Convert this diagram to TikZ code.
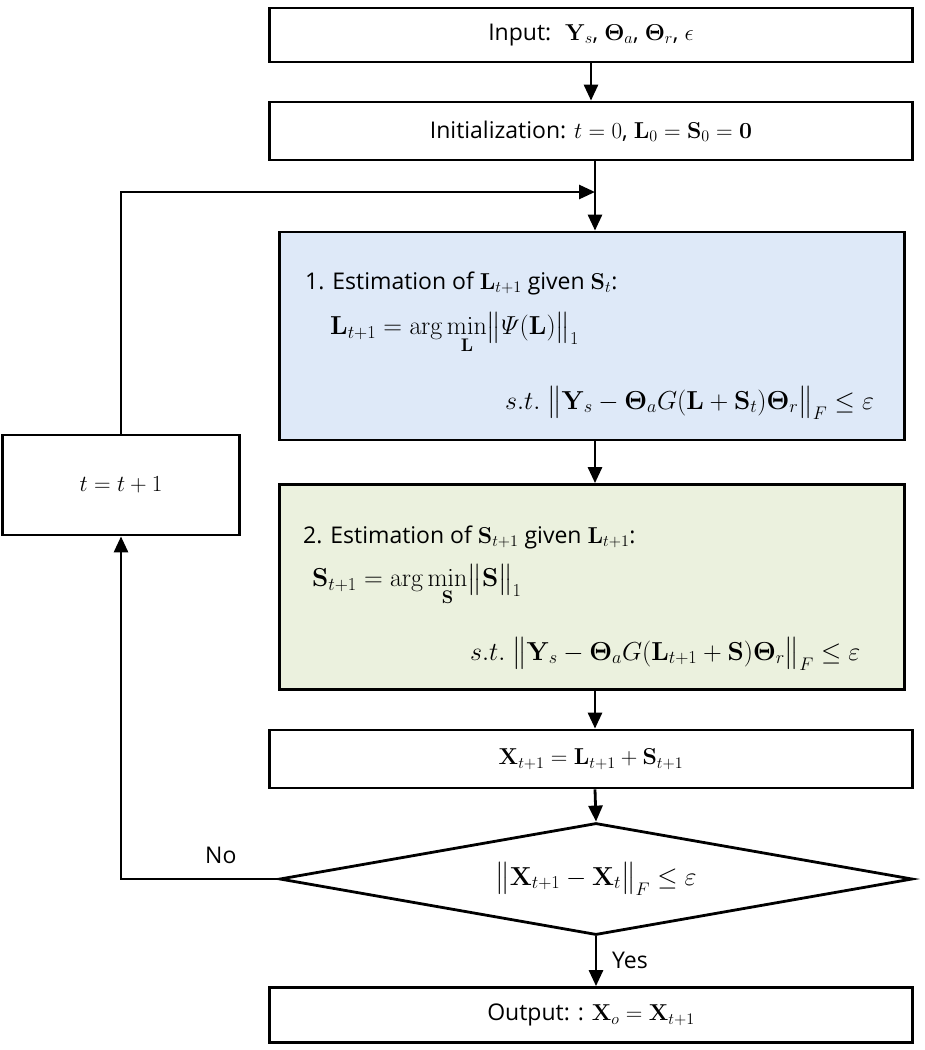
\RequirePackage{fix-cm}
\documentclass[tikz,border=0pt]{standalone}
\usepackage{amsmath,amssymb,bm}
\usepackage[no-math]{fontspec}
\setmainfont{Open Sans}
\usetikzlibrary{shapes.geometric,arrows.meta}
\begin{document}
\begin{tikzpicture}[x=1pt,y=-1pt,
  box/.style={draw,line width=2.8pt,inner sep=0,font=\fontsize{23}{27}\selectfont},
  arr/.style={line width=2.8pt,-{Triangle[length=16pt,width=14pt]}},
  eq/.style={anchor=west,inner sep=0,font=\fontsize{26}{31}\selectfont},
  txt/.style={anchor=west,inner sep=0,font=\fontsize{23}{27}\selectfont}]
\useasboundingbox (0,0) rectangle (925,1050);
\node[box,minimum width=643pt,minimum height=54pt] (in) at (591,35) {Input: \ $\mathbf{Y}_s$, $\bm{\Theta}_a$, $\bm{\Theta}_r$, $\epsilon$};
\node[box,minimum width=643pt,minimum height=58pt] (init) at (591,131) {Initialization: $t=0$, $\mathbf{L}_0=\mathbf{S}_0=\mathbf{0}$};
\node[box,minimum width=625pt,minimum height=208pt,fill={rgb,255:red,222;green,233;blue,248}] (b1) at (592,336) {};
\node[box,minimum width=625pt,minimum height=205pt,fill={rgb,255:red,235;green,241;blue,222}] (b2) at (592,587) {};
\node[txt] (t1) at (305,283) {1. Estimation of $\mathbf{L}_{t+1}$ given $\mathbf{S}_t$:};
\node[eq] (e1) at (330,333) {$\mathbf{L}_{t+1}=\arg\min\limits_{\mathbf{L}}\bigl\|\varPsi(\mathbf{L})\bigr\|_1$};
\node[eq] (e2) at (505,403) {$s.t.\ \bigl\|\mathbf{Y}_s-\bm{\Theta}_aG(\mathbf{L}+\mathbf{S}_t)\bm{\Theta}_r\bigr\|_F\le\varepsilon$};
\node[txt] (t2) at (303,537) {2. Estimation of $\mathbf{S}_{t+1}$ given $\mathbf{L}_{t+1}$:};
\node[eq] (e3) at (312,585) {$\mathbf{S}_{t+1}=\arg\min\limits_{\mathbf{S}}\bigl\|\mathbf{S}\bigr\|_1$};
\node[eq] (e4) at (470,654) {$s.t.\ \bigl\|\mathbf{Y}_s-\bm{\Theta}_aG(\mathbf{L}_{t+1}+\mathbf{S})\bm{\Theta}_r\bigr\|_F\le\varepsilon$};
\node[box,minimum width=643pt,minimum height=58pt] (x) at (591,759) {$\mathbf{X}_{t+1}=\mathbf{L}_{t+1}+\mathbf{S}_{t+1}$};
\node[box,diamond,minimum width=633pt,minimum height=112pt] (d) at (596,879) {};
\node[eq,anchor=center] (de) at (596,879) {$\bigl\|\mathbf{X}_{t+1}-\mathbf{X}_t\bigr\|_F\le\varepsilon$};
\node[box,minimum width=643pt,minimum height=55pt] (out) at (591,1015) {Output: : $\mathbf{X}_o=\mathbf{X}_{t+1}$};
\node[box,minimum width=237pt,minimum height=100pt] (t) at (121,485) {$t=t+1$};
\coordinate (m) at (595,192);
\draw[arr] (in) -- (init);
\draw[line width=2.8pt] (init.south -| m) -- (m);
\draw[arr] (m) -- (b1.north -| m);
\draw[arr] (b1.south -| m) -- (b2.north -| m);
\draw[arr] (b2.south -| m) -- (x.north -| m);
\draw[arr] (x.south -| m) -- (d.north);
\draw[arr] (d.south) -- (out.north -| d.south);
\draw[arr] (d.west) -| (t.south);
\draw[arr] (t.north) |- (m);
\node[txt] (no) at (205,855) {No};
\node[txt] (yes) at (612,960) {Yes};
\end{tikzpicture}
\end{document}
